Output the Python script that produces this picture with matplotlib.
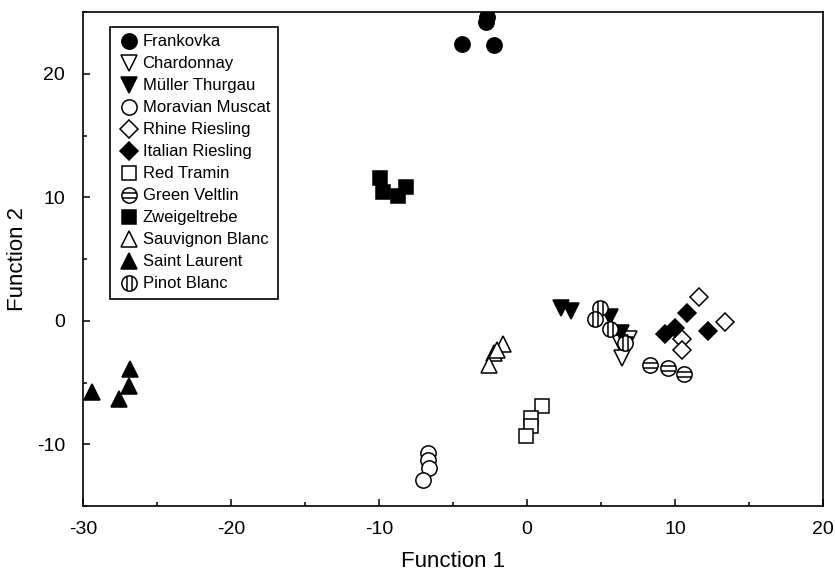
import numpy as np
import matplotlib
matplotlib.use('Agg')
import matplotlib.pyplot as plt
from matplotlib.path import Path
from matplotlib.ticker import MultipleLocator

plt.rcParams['font.family'] = ['Liberation Sans', 'DejaVu Sans']
plt.rcParams['axes.unicode_minus'] = False

# discriminant function scores, one pair of lists per cultivar
frankovka_x = [-4.4, -2.8, -2.7, -2.2]
frankovka_y = [22.4, 24.2, 24.6, 22.3]
chardonnay_x = [6.9, 6.6, 6.3, 6.4]
chardonnay_y = [-1.5, -2.0, -1.8, -3.0]
muller_x = [2.3, 3.0, 5.6, 6.35]
muller_y = [1.0, 0.8, 0.3, -1.0]
muscat_x = [-6.7, -6.7, -6.6, -7.0]
muscat_y = [-10.7, -11.3, -11.9, -12.9]
rhine_x = [11.6, 13.4, 10.5, 10.5]
rhine_y = [1.9, -0.1, -1.5, -2.4]
italian_x = [10.8, 10.0, 9.3, 12.2]
italian_y = [0.6, -0.6, -1.05, -0.8]
tramin_x = [1.0, 0.3, 0.3, -0.1]
tramin_y = [-6.9, -7.9, -8.5, -9.3]
veltlin_x = [8.3, 9.5, 10.6]
veltlin_y = [-3.6, -3.8, -4.3]
zweigelt_x = [-9.9, -9.7, -8.7, -8.2]
zweigelt_y = [11.6, 10.4, 10.1, 10.8]
sauvignon_x = [-1.6, -2.2, -2.0, -2.6]
sauvignon_y = [-1.9, -2.6, -2.4, -3.6]
laurent_x = [-26.8, -26.9, -29.4, -27.6]
laurent_y = [-3.9, -5.3, -5.8, -6.3]
pinot_x = [4.9, 4.6, 5.6, 6.6]
pinot_y = [1.05, 0.15, -0.65, -1.8]


def striped_circle(vertical=False):
    # unit circle with two chords across it
    parts = [Path.unit_circle()]
    for c in (-0.33, 0.33):
        h = np.sqrt(1 - c**2)
        pts = [[-h, c], [h, c]]
        if vertical:
            pts = [[c, -h], [c, h]]
        parts.append(Path(pts, [Path.MOVETO, Path.LINETO]))
    return Path.make_compound_path(*parts)


h_stripes = striped_circle(False)
v_stripes = striped_circle(True)

series = [
    ('Frankovka', frankovka_x, frankovka_y, 'o', 'black', 11),
    ('Chardonnay', chardonnay_x, chardonnay_y, 'v', 'white', 11),
    ('Müller Thurgau', muller_x, muller_y, 'v', 'black', 11),
    ('Moravian Muscat', muscat_x, muscat_y, 'o', 'white', 11),
    ('Rhine Riesling', rhine_x, rhine_y, 'D', 'white', 9.5),
    ('Italian Riesling', italian_x, italian_y, 'D', 'black', 9.5),
    ('Red Tramin', tramin_x, tramin_y, 's', 'white', 10),
    ('Green Veltlin', veltlin_x, veltlin_y, h_stripes, 'white', 11),
    ('Zweigeltrebe', zweigelt_x, zweigelt_y, 's', 'black', 10),
    ('Sauvignon Blanc', sauvignon_x, sauvignon_y, '^', 'white', 11),
    ('Saint Laurent', laurent_x, laurent_y, '^', 'black', 11),
    ('Pinot Blanc', pinot_x, pinot_y, v_stripes, 'white', 11),
]

fig = plt.figure(figsize=(8.35, 5.75), dpi=100)
ax = fig.add_axes([0.0994, 0.12, 0.8862, 0.8591])

for name, xs, ys, mk, fc, ms in series:
    ax.plot(xs, ys, linestyle='none', marker=mk, markersize=ms,
            markerfacecolor=fc, markeredgecolor='black', markeredgewidth=1.1,
            label=name)

ax.set_xlim(-30, 20)
ax.set_ylim(-15, 25)
ax.xaxis.set_major_locator(MultipleLocator(10))
ax.xaxis.set_minor_locator(MultipleLocator(5))
ax.yaxis.set_major_locator(MultipleLocator(10))
ax.yaxis.set_minor_locator(MultipleLocator(5))
ax.tick_params(which='both', direction='in', labelsize=14, width=1.1)
ax.tick_params(which='major', length=5)
ax.tick_params(which='minor', length=3)
ax.tick_params(axis='x', which='major', pad=11)
ax.tick_params(axis='y', which='major', pad=13)
for sp in ax.spines.values():
    sp.set_linewidth(1.2)

ax.set_xlabel('Function 1', fontsize=16, labelpad=9)
ax.set_ylabel('Function 2', fontsize=16, labelpad=6)

leg = ax.legend(loc='upper left', bbox_to_anchor=(0.0365, 0.97), borderaxespad=0,
                fontsize=12, handletextpad=0.1, handlelength=1.4, labelspacing=0.42,
                borderpad=0.45, fancybox=False, framealpha=1, edgecolor='black')
leg.get_frame().set_linewidth(1.2)

fig.savefig('out.png', dpi=100)
